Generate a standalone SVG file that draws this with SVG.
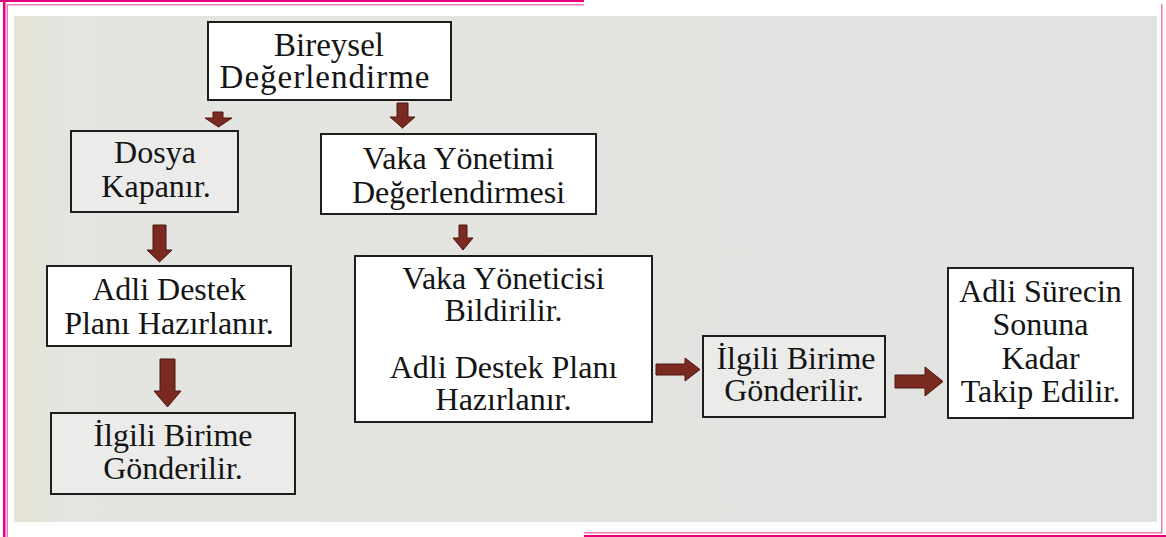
<svg xmlns="http://www.w3.org/2000/svg" width="1166" height="537" viewBox="0 0 1166 537">
<defs>
<linearGradient id="bg" x1="0" y1="0" x2="1" y2="0">
<stop offset="0" stop-color="#e6e4d4"/>
<stop offset="0.04" stop-color="#e4e4e0"/>
<stop offset="1" stop-color="#e2e2e1"/>
</linearGradient>
<style>
.box{stroke:#1e1e1e;stroke-width:2}
.w{fill:#ffffff}
.g{fill:#ebebea}
.t{font-family:"Liberation Serif","Times New Roman",serif;font-size:32px;fill:#141414;text-anchor:middle}
.big{font-size:33px}
.arr{fill:#7a2a20;stroke:#4e1710;stroke-width:1}
</style>
</defs>
<rect width="1166" height="537" fill="#ffffff"/>
<rect x="14" y="16" width="1143" height="506" fill="url(#bg)"/>
<rect x="0" y="0" width="584" height="2" fill="#e4007c"/>
<rect x="7" y="4" width="577" height="1.5" fill="#f07ab8"/>
<rect x="3" y="0" width="2.5" height="537" fill="#e4007c"/>
<rect x="6.5" y="4" width="1.5" height="533" fill="#f07ab8"/>
<rect x="584" y="532" width="578" height="1.5" fill="#f07ab8"/>
<rect x="584" y="535" width="582" height="2" fill="#e4007c"/>
<rect x="1161" y="4" width="1.5" height="529.5" fill="#f07ab8"/>

<g id="connectors">
<polygon class="arr" points="213,112 223,112 223,118 232,118 218.5,127 205,118 213,118"/>
<polygon class="arr" points="397,103 408,103 408,117 415,117 402.5,128 390,117 397,117"/>
<polygon class="arr" points="153,225 166,225 166,250 172,250 159.5,262 147,250 153,250"/>
<polygon class="arr" points="160,359 175,359 175,391 181,391 167.5,407 154,391 160,391"/>
<polygon class="arr" points="459,225 467,225 467,238 473,238 463,250 453,238 459,238"/>
<polygon class="arr" points="656,364 685,364 685,358 700,369.5 685,381 685,375 656,375"/>
<polygon class="arr" points="895,375 925,375 925,367 943,381.5 925,396 925,388 895,388"/>
</g>

<g id="n1"><rect class="box w" x="208" y="22" width="243" height="78"/>
<text class="t big" x="329" y="56">Bireysel</text><text class="t big" x="325" y="88" letter-spacing="1">Değerlendirme</text></g>

<g id="n2"><rect class="box g" x="71" y="131" width="167" height="81"/>
<text class="t" x="155" y="163">Dosya</text><text class="t" x="156" y="197">Kapanır.</text></g>

<g id="n3"><rect class="box w" x="321" y="134" width="275" height="80"/>
<text class="t" x="458.5" y="169">Vaka Yönetimi</text><text class="t" x="458.5" y="203">Değerlendirmesi</text></g>

<g id="n4"><rect class="box w" x="47" y="266" width="244" height="80"/>
<text class="t" x="169" y="300">Adli Destek</text><text class="t" x="169" y="334">Planı Hazırlanır.</text></g>

<g id="n5"><rect class="box g" x="51" y="413" width="244" height="81"/>
<text class="t" x="173" y="446">İlgili Birime</text><text class="t" x="173" y="479">Gönderilir.</text></g>

<g id="n6"><rect class="box w" x="355" y="256" width="297" height="166"/>
<text class="t" x="503.5" y="289">Vaka Yöneticisi</text><text class="t" x="503.5" y="321">Bildirilir.</text>
<text class="t" x="503.5" y="378">Adli Destek Planı</text><text class="t" x="503.5" y="410">Hazırlanır.</text></g>

<g id="n7"><rect class="box g" x="703" y="336" width="182" height="81"/>
<text class="t" x="796" y="369">İlgili Birime</text><text class="t" x="794" y="401">Gönderilir.</text></g>

<g id="n8"><rect class="box w" x="948" y="268" width="185" height="150"/>
<text class="t" x="1040.5" y="302">Adli Sürecin</text><text class="t" x="1040.5" y="335">Sonuna</text>
<text class="t" x="1040.5" y="369">Kadar</text><text class="t" x="1040.5" y="402">Takip Edilir.</text></g>
</svg>
